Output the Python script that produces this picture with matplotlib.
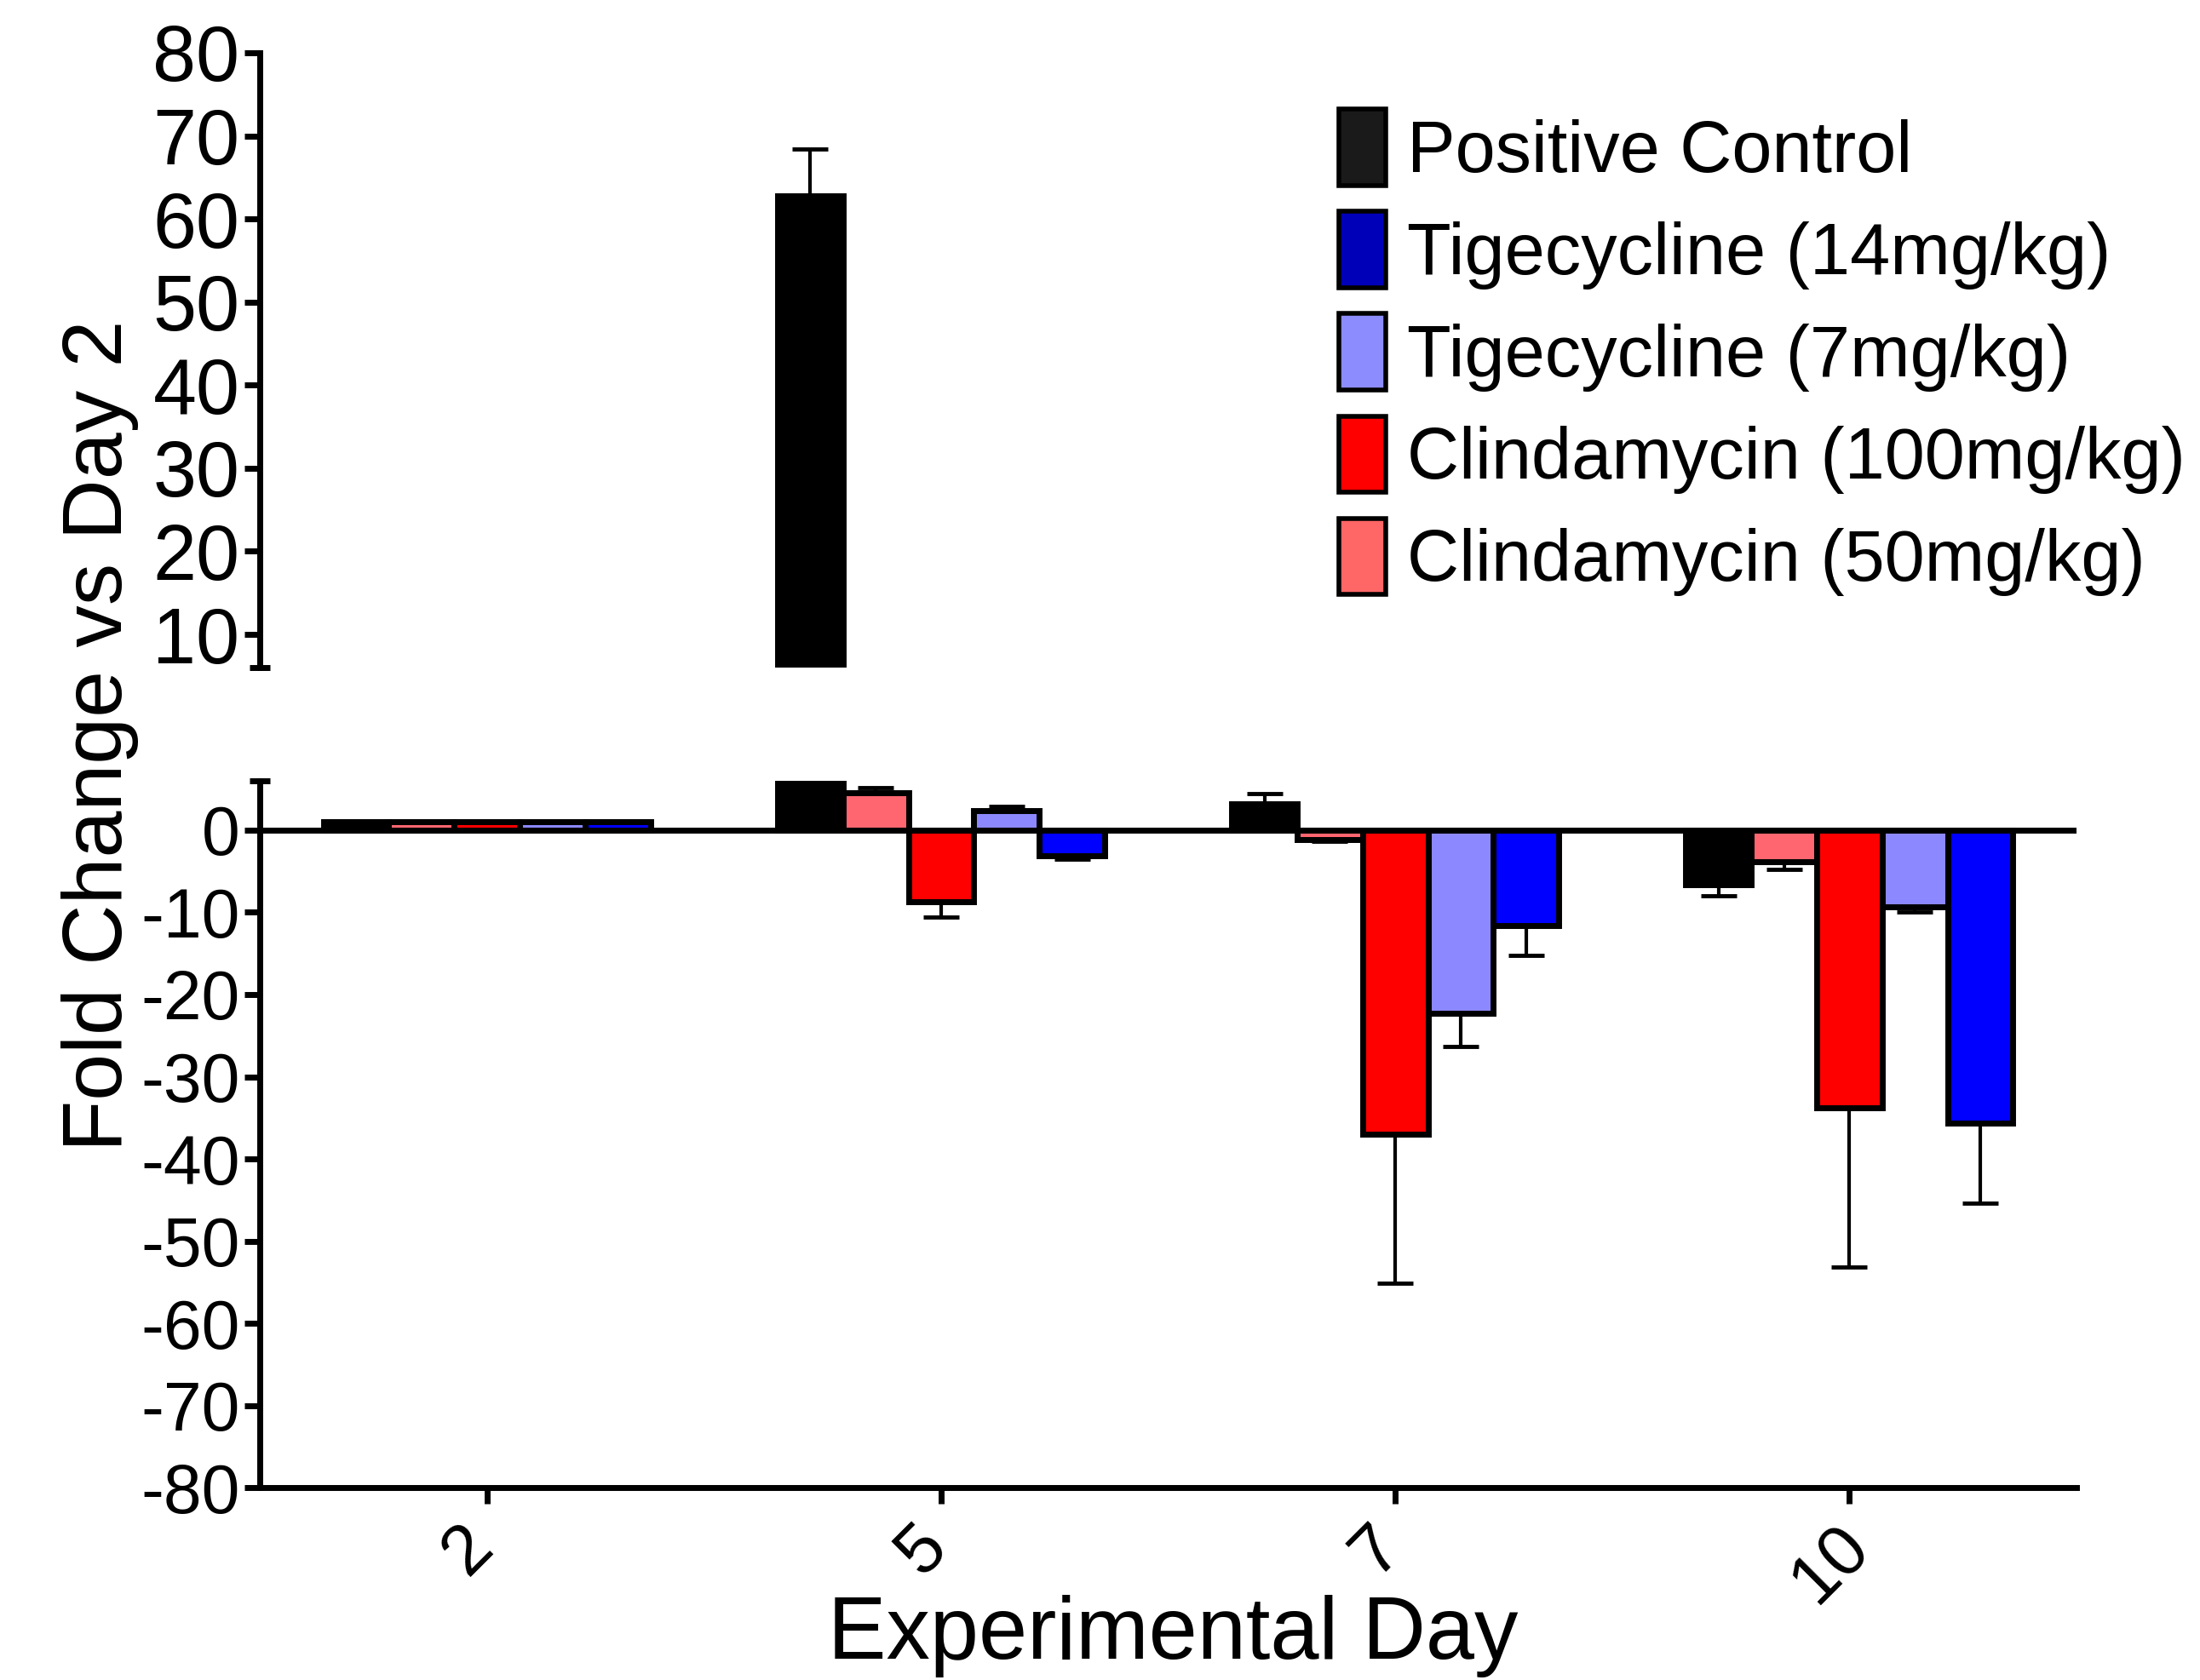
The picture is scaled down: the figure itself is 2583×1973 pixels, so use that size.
import matplotlib
matplotlib.use("Agg")
import matplotlib.pyplot as plt
from matplotlib.patches import Patch
import matplotlib.transforms as mtransforms
import numpy as np

plt.rcParams['font.family'] = ['Liberation Sans', 'DejaVu Sans']
plt.rcParams['axes.unicode_minus'] = False

# data (fold change vs day 2, mean and one-sided error)
days = ['2', '5', '7', '10']
pos_ctrl = [1.0, 62.8, 3.2, -6.6]
pos_ctrl_err = [0, 5.6, 1.2, 1.4]
clinda_50 = [1.0, 4.6, -1.1, -3.8]
clinda_50_err = [0, 0.6, 0.3, 1.0]
clinda_100 = [1.0, -8.7, -37.0, -33.8]
clinda_100_err = [0, 1.9, 18.1, 19.4]
tige_7 = [1.0, 2.4, -22.3, -9.3]
tige_7_err = [0, 0.5, 4.0, 0.6]
tige_14 = [1.0, -3.1, -11.6, -35.6]
tige_14_err = [0, 0.4, 3.6, 9.8]

# bar order inside each group
series = [
    (pos_ctrl, pos_ctrl_err, '#000000'),
    (clinda_50, clinda_50_err, '#ff6670'),
    (clinda_100, clinda_100_err, '#ff0000'),
    (tige_7, tige_7_err, '#8c88ff'),
    (tige_14, tige_14_err, '#0000ff'),
]

# legend order / swatch colours
legend_labels = ['Positive Control', 'Tigecycline (14mg/kg)', 'Tigecycline (7mg/kg)',
                 'Clindamycin (100mg/kg)', 'Clindamycin (50mg/kg)']
legend_colors = ['#1a1a1a', '#0000b8', '#8c8cff', '#ff0000', '#ff6666']

fig = plt.figure(figsize=(25.83, 19.73), dpi=100)
ax_top = fig.add_axes([0.1181, 0.6026, 0.8258, 0.3660])
ax_bot = fig.add_axes([0.1181, 0.1145, 0.8258, 0.4207])

x = np.arange(len(days))
width = 0.144
offsets = (np.arange(len(series)) - 2) * width

for ax in (ax_top, ax_bot):
    for i, (vals, errs, color) in enumerate(series):
        lo = [e if v < 0 else 0 for v, e in zip(vals, errs)]
        hi = [e if v >= 0 else 0 for v, e in zip(vals, errs)]
        ax.bar(x + offsets[i], vals, width, color=color, edgecolor='k',
               linewidth=5, zorder=3)
        ax.errorbar(x + offsets[i], vals, yerr=[lo, hi], fmt='none', ecolor='k',
                    elinewidth=3, capsize=14.8, capthick=3.5, zorder=2)
    ax.set_xlim(-0.5, 3.5)
    for s in ('top', 'right'):
        ax.spines[s].set_visible(False)
    ax.spines['left'].set_linewidth(5)
    ax.spines['bottom'].set_linewidth(5)
    ax.tick_params(axis='y', direction='out', length=13, width=5, pad=4)

# top segment
ax_top.set_ylim(6, 80)
ax_top.set_yticks(range(10, 81, 10))
ax_top.spines['bottom'].set_visible(False)
ax_top.spines['left'].set_bounds(6, 80)
ax_top.tick_params(axis='x', bottom=False, labelbottom=False)
ax_top.tick_params(axis='y', labelsize=66)
ax_top.plot(0, 6, marker='_', ms=17, mew=5, color='k',
            transform=ax_top.get_yaxis_transform(), clip_on=False)

# bottom segment
ax_bot.set_ylim(-80, 6)
ax_bot.set_yticks(range(-80, 1, 10))
ax_bot.spines['left'].set_bounds(-80, 6)
ax_bot.tick_params(axis='y', labelsize=58)
ax_bot.axhline(0, color='k', lw=5, zorder=4)
ax_bot.plot(0, 6, marker='_', ms=17, mew=5, color='k',
            transform=ax_bot.get_yaxis_transform(), clip_on=False)
ax_bot.set_xticks(x)
ax_bot.set_xticklabels(days, rotation=45, ha='center', fontsize=60)
ax_bot.tick_params(axis='x', direction='out', length=14, width=5, pad=7)
shift = mtransforms.ScaledTranslation(-16 / 72, 0, fig.dpi_scale_trans)
for lab in ax_bot.get_xticklabels():
    lab.set_transform(lab.get_transform() + shift)

fig.text(0.0554, 0.562, 'Fold Change vs Day 2', rotation=90, rotation_mode='anchor',
         ha='center', va='baseline', fontsize=71)
fig.text(0.533, 0.0127, 'Experimental Day', ha='center', va='baseline', fontsize=74)

handles = [Patch(facecolor=c, edgecolor='k', linewidth=4) for c in legend_colors]
fig.legend(handles, legend_labels, loc='upper left', bbox_to_anchor=(0.6086, 0.935),
           frameon=False, fontsize=61, handlelength=0.65, handleheight=1.25,
           handletextpad=0.3, labelspacing=0.34, borderpad=0, borderaxespad=0)

fig.savefig('out.png', dpi=100)
